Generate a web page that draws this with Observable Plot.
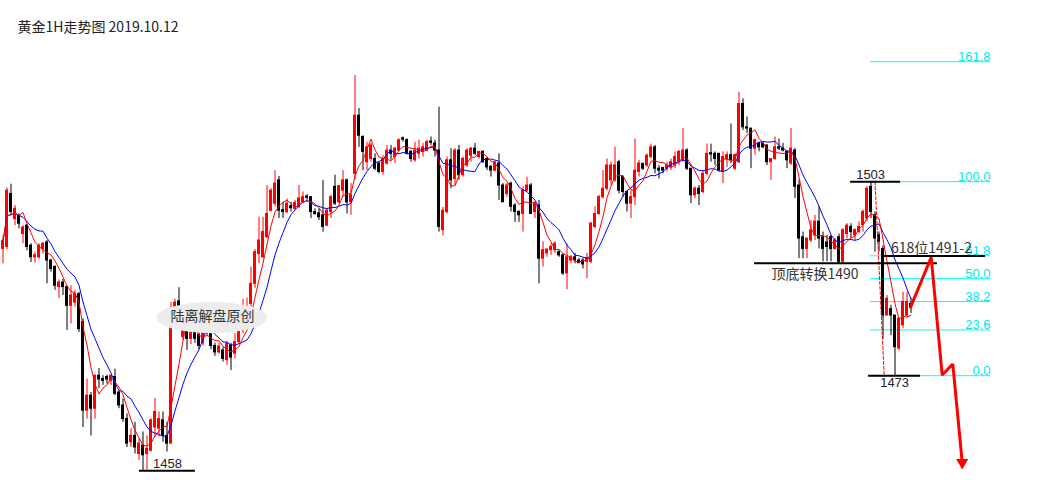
<!DOCTYPE html>
<html><head><meta charset="utf-8">
<script src="https://cdn.jsdelivr.net/npm/d3@7"></script>
<script src="https://cdn.jsdelivr.net/npm/@observablehq/plot@0.6"></script>
<style>html,body{margin:0;padding:0;background:#fff;overflow:hidden}svg{display:block}</style>
</head><body><div id="chart"></div>
<script>
// ---- 1H gold candles (prices) ----
const opens = [
1492.6,1492.9,1501.1,1497.2,1497.7,1494.9,1496.2,1493.1,1491.3,1491.3,
1492.6,1493.6,1490.8,1489.8,1486.7,1487.4,1486.7,1483.8,1484.3,1485.6,
1481.3,1467.6,1469.9,1467.9,1473.0,1472.5,1472.8,1472.2,1472.8,1470.4,
1468.4,1466.3,1462.7,1463.7,1460.9,1462.2,1460.9,1461.4,1465.0,1464.8,
1466.1,1463.7,1462.5,1483.6,1484.5,1479.0,1480.0,1478.7,1479.8,1479.3,
1478.0,1479.5,1479.5,1477.6,1476.6,1476.9,1475.4,1477.7,1476.4,1478.2,
1480.0,1482.0,1484.1,1487.2,1491.8,1491.3,1494.4,1498.5,1499.6,1503.2,
1498.6,1498.3,1499.2,1498.8,1499.1,1499.8,1500.7,1500.6,1498.3,1498.1,
1497.8,1496.2,1498.3,1502.2,1499.8,1501.6,1503.2,1499.8,1504.2,1513.2,
1509.9,1506.0,1506.5,1506.5,1505.8,1504.5,1505.8,1507.8,1506.8,1507.8,
1509.7,1509.4,1507.6,1506.3,1507.3,1507.6,1507.8,1509.2,1508.9,1507.8,
1495.5,1498.3,1506.3,1503.4,1507.8,1504.0,1505.5,1507.0,1508.1,1506.8,
1507.6,1506.5,1505.3,1504.7,1505.8,1502.4,1501.1,1502.7,1499.3,1498.3,
1498.0,1501.6,1502.4,1498.3,1499.3,1491.1,1491.9,1492.4,1492.4,1492.1,
1491.6,1488.8,1490.8,1491.3,1490.8,1490.8,1490.6,1490.6,1496.0,1498.0,
1500.6,1501.9,1503.2,1503.2,1506.0,1503.7,1501.4,1499.6,1500.6,1504.5,
1505.7,1505.5,1506.8,1508.3,1505.0,1505.1,1505.0,1505.2,1505.5,1506.0,
1506.3,1507.8,1505.0,1500.9,1501.9,1501.4,1504.2,1507.4,1507.3,1507.3,
1504.5,1506.5,1507.1,1505.0,1506.0,1515.0,1511.4,1511.2,1508.1,1508.9,
1508.9,1508.6,1506.0,1506.5,1508.3,1508.1,1507.6,1505.8,1507.8,1502.4,
1494.4,1492.6,1493.9,1494.7,1496.8,1494.4,1493.6,1494.4,1492.6,1494.4,
1490.6,1494.9,1496.0,1494.7,1495.2,1496.3,1497.3,1502.2,1497.8,1494.7,
1492.6,1482.3,1483.3,1482.3,1477.2,1480.8,1482.3,1484.1];
const highs = [
1494.6,1502.0,1502.6,1499.3,1498.0,1496.2,1496.4,1493.4,1492.1,1493.4,
1493.6,1493.9,1491.0,1490.0,1487.8,1487.9,1486.9,1486.9,1486.2,1485.9,
1481.8,1472.5,1470.4,1473.1,1474.1,1473.0,1473.1,1473.1,1474.0,1470.7,
1469.4,1467.1,1464.8,1465.8,1463.2,1464.3,1463.7,1466.3,1469.5,1467.4,
1467.4,1465.8,1484.3,1484.8,1486.6,1482.5,1481.0,1481.0,1481.0,1480.0,
1481.0,1481.5,1480.0,1478.0,1478.0,1477.4,1478.3,1478.0,1479.5,1480.5,
1484.8,1485.0,1489.8,1492.5,1497.5,1497.5,1502.4,1501.9,1504.7,1503.8,
1499.8,1500.3,1499.8,1500.1,1502.4,1501.4,1501.0,1500.7,1498.8,1498.8,
1503.2,1498.8,1500.9,1504.0,1502.4,1504.7,1503.4,1502.7,1519.4,1514.3,
1510.1,1509.1,1508.9,1507.3,1506.0,1507.0,1508.6,1508.6,1508.3,1509.6,
1509.9,1509.6,1507.8,1509.1,1509.4,1508.9,1509.4,1509.9,1509.4,1514.5,
1499.0,1506.8,1508.1,1508.1,1508.6,1506.8,1508.1,1508.3,1508.9,1507.6,
1507.8,1506.8,1505.5,1506.0,1507.3,1502.7,1502.7,1502.9,1499.6,1498.5,
1502.2,1503.7,1502.7,1499.8,1500.1,1493.7,1492.6,1493.4,1493.7,1492.4,
1491.9,1493.4,1491.6,1491.9,1491.1,1491.1,1491.9,1496.7,1499.1,1500.9,
1504.7,1506.5,1506.0,1508.3,1506.3,1503.9,1501.6,1501.6,1509.6,1506.3,
1505.9,1507.3,1508.8,1508.6,1505.5,1505.2,1506.0,1506.5,1507.6,1507.8,
1511.2,1508.1,1505.0,1502.2,1502.4,1504.7,1508.8,1508.8,1507.6,1507.3,
1507.6,1507.6,1511.9,1507.3,1516.8,1515.8,1513.0,1511.2,1509.6,1509.1,
1508.9,1508.6,1506.5,1509.9,1509.6,1508.9,1507.8,1511.2,1508.1,1503.2,
1495.2,1494.2,1497.0,1497.8,1499.1,1495.2,1494.7,1494.7,1494.2,1494.9,
1495.7,1496.5,1496.5,1495.7,1496.8,1498.6,1502.2,1503.0,1498.3,1495.2,
1493.1,1485.4,1483.9,1482.3,1482.0,1485.9,1485.9,1484.9];
const lows = [
1490.3,1492.5,1497.7,1496.2,1495.7,1493.4,1492.3,1490.5,1490.4,1491.0,
1491.8,1487.2,1489.0,1486.2,1484.9,1485.4,1480.0,1481.0,1483.6,1479.7,
1465.0,1466.3,1463.7,1466.3,1471.0,1471.5,1471.7,1471.5,1469.9,1467.9,
1465.8,1461.9,1461.9,1460.9,1459.9,1458.3,1458.3,1461.2,1463.5,1463.5,
1462.7,1461.2,1462.5,1482.5,1482.0,1478.5,1476.9,1477.8,1478.0,1477.0,
1477.6,1479.0,1477.0,1476.0,1476.3,1475.1,1474.6,1473.8,1475.6,1477.8,
1479.5,1481.0,1483.6,1486.5,1490.3,1491.1,1494.2,1498.3,1499.1,1497.3,
1497.3,1498.0,1498.3,1498.5,1498.8,1499.6,1500.1,1497.3,1497.8,1497.0,
1495.2,1496.0,1497.3,1499.3,1499.6,1500.6,1498.0,1497.8,1503.2,1508.3,
1504.7,1504.7,1506.0,1504.7,1504.2,1504.0,1505.5,1506.3,1505.8,1507.6,
1509.1,1507.1,1506.0,1506.0,1506.5,1506.8,1507.6,1508.6,1506.8,1495.2,
1494.6,1498.0,1501.9,1502.4,1503.2,1503.7,1505.2,1506.0,1507.0,1506.5,
1505.8,1504.7,1503.7,1504.5,1500.1,1499.8,1500.6,1498.3,1496.7,1496.7,
1495.2,1501.4,1498.0,1497.3,1487.2,1489.8,1491.3,1491.6,1491.9,1491.3,
1488.5,1486.3,1490.3,1490.3,1490.3,1489.5,1488.0,1490.3,1495.7,1497.8,
1500.3,1501.6,1502.4,1502.9,1501.1,1500.6,1498.3,1497.3,1499.3,1503.7,
1504.7,1505.2,1506.5,1504.2,1503.4,1504.2,1504.5,1504.7,1505.0,1505.5,
1506.0,1504.7,1499.6,1500.4,1499.3,1501.1,1504.0,1506.0,1505.5,1504.5,
1502.7,1505.2,1505.8,1504.7,1505.8,1510.9,1510.4,1505.0,1507.1,1507.6,
1508.1,1505.5,1503.2,1506.3,1507.8,1507.6,1505.0,1505.5,1500.4,1491.1,
1491.1,1491.1,1493.6,1493.9,1492.6,1490.6,1490.6,1490.6,1492.4,1490.3,
1490.3,1494.2,1494.2,1493.9,1495.0,1495.2,1496.8,1497.3,1492.1,1492.1,
1478.7,1482.3,1479.2,1473.0,1476.9,1480.3,1482.0,1482.6];
const closes = [
1493.8,1501.6,1498.3,1498.8,1496.5,1495.9,1492.9,1491.3,1491.6,1493.1,
1493.4,1490.8,1489.5,1486.9,1487.4,1486.7,1483.8,1485.4,1485.6,1480.2,
1467.6,1469.9,1467.9,1473.0,1472.4,1472.2,1472.4,1473.0,1470.2,1468.4,
1466.3,1462.5,1463.7,1461.9,1462.5,1460.7,1461.7,1466.1,1467.4,1466.3,
1463.7,1462.5,1480.5,1484.3,1483.0,1481.5,1478.7,1479.8,1478.7,1477.6,
1479.8,1480.5,1477.6,1476.6,1477.5,1475.6,1477.9,1475.8,1478.2,1480.0,
1482.5,1483.5,1487.2,1492.1,1493.9,1495.2,1498.0,1501.6,1502.7,1498.5,
1498.3,1499.6,1498.9,1499.7,1500.4,1500.6,1500.5,1498.3,1498.0,1497.5,
1496.0,1498.5,1500.6,1499.6,1502.3,1503.2,1499.8,1500.9,1513.2,1510.1,
1507.6,1508.3,1508.6,1505.0,1504.5,1506.5,1507.8,1507.3,1508.1,1509.4,
1509.5,1507.3,1506.5,1507.8,1508.1,1508.3,1509.1,1509.0,1507.8,1496.0,
1498.5,1506.3,1503.2,1507.8,1504.0,1506.5,1507.8,1508.1,1507.3,1507.6,
1506.0,1505.2,1504.7,1506.0,1502.4,1499.8,1502.4,1499.1,1498.3,1497.8,
1501.6,1502.4,1498.0,1499.6,1491.1,1492.4,1492.5,1492.9,1493.4,1491.6,
1488.8,1491.3,1491.3,1490.8,1490.4,1490.2,1491.1,1496.5,1498.0,1500.6,
1501.9,1505.5,1505.5,1505.5,1501.6,1501.4,1499.6,1500.6,1504.7,1505.8,
1505.0,1507.0,1508.3,1505.0,1504.7,1504.7,1505.5,1506.0,1506.8,1507.6,
1507.8,1505.0,1500.9,1501.9,1501.1,1504.2,1507.3,1507.2,1506.5,1504.7,
1506.8,1507.1,1506.3,1507.1,1515.0,1511.4,1511.2,1508.1,1509.4,1508.3,
1508.3,1506.0,1506.5,1508.3,1508.1,1507.8,1506.3,1508.1,1502.2,1494.2,
1492.6,1494.2,1495.5,1496.8,1494.2,1492.6,1492.9,1492.6,1493.9,1490.6,
1495.5,1496.2,1495.2,1495.5,1496.0,1498.3,1501.9,1498.3,1494.2,1493.7,
1482.3,1484.9,1482.3,1477.4,1481.8,1484.4,1484.4,1483.6];

// ---- Fibonacci retracement (1473 -> 1503) ----
const fibLow = 1473, fibHigh = 1503;
const fibRatios = [0, 23.6, 38.2, 50, 61.8, 100, 161.8];
const fibFrom = 216.9, fibTo = 246.9;

// ---- marked highs / lows ----
const markLabels = ["1458", "1503", "1473"];
const markPrices = [1458.3, 1503, 1473];
const markFrom = [34.1, 211.9, 216.4];
const markTo = [48.1, 224.4, 229.4];
const markAt = [41.1, 216.9, 222.9];
const markBelow = [false, false, true];

// ---- support / resistance lines with notes ----
const srNotes = ["顶底转换1490", "618位1491-2"];
const srPrices = [1490.4, 1491.5];
const srFrom = [187.9, 220.4];
const srTo = [233.6, 245.6];
const srNoteAt = [203.0, 232.1];
const srNotePrice = [1488.6, 1492.7];

// ---- projected path (index, price) ----
const pathIdx = [226.9, 232.05, 234.8, 237.45, 239.8];
const pathPrice = [1483.6, 1491.3, 1473.1, 1474.8, 1459.6];
const dashIdx = [218.0, 220.3];
const dashPrice = [1503, 1473];

const watermark = "陆离解盘原创";
const wmBox = {x1: 38.6, x2: 66.1, y1: 1479.5, y2: 1484.3, x: 52.4, y: 1482.1};
const title = "黄金1H走势图 2019.10.12";

const candles = opens.map((o, i) => ({i, o, h: highs[i], l: lows[i], c: closes[i]}));
const col = d => d.c >= d.o ? "#ff0000" : "#000000";
const fibs = fibRatios.map(r => ({r, p: fibLow + r / 100 * (fibHigh - fibLow)}));
const marks = markLabels.map((t, k) => ({t, p: markPrices[k], a: markFrom[k], b: markTo[k], at: markAt[k], below: markBelow[k]}));
const marksAbove = marks.filter(d => !d.below);
const marksBelow = marks.filter(d => d.below);
const srs = srNotes.map((t, k) => ({t, p: srPrices[k], a: srFrom[k], b: srTo[k], at: srNoteAt[k], np: srNotePrice[k]}));
const path = pathIdx.map((x, k) => ({x, y: pathPrice[k]}));
const dash = dashIdx.map((x, k) => ({x, y: dashPrice[k]}));
const cjk = "'Noto Sans CJK SC', 'Noto Sans', sans-serif";
const latin = "'Liberation Sans', Arial, sans-serif";

const chart = Plot.plot({
  width: 1049, height: 480, margin: 0,
  x: {type: "linear", domain: [-0.625, 261.625], axis: null},
  y: {type: "linear", domain: [1456.8, 1531], axis: null},
  style: {background: "#ffffff", fontFamily: latin},
  marks: [
    Plot.ruleY(fibs, {y: "p", x1: () => fibFrom, x2: () => fibTo, stroke: "#00ffff", strokeWidth: 1}),
    Plot.text(fibs, {x: () => fibTo, y: "p", text: d => d.r.toFixed(1), textAnchor: "end", lineAnchor: "bottom", dy: -1, fill: "#00e8e8", fontSize: 13, fontFamily: latin}),
    Plot.ruleX(candles, {x: "i", y1: "l", y2: "h", stroke: col, strokeWidth: 1}),
    Plot.rect(candles, {x1: d => d.i - 0.375, x2: d => d.i + 0.375, y1: "o", y2: "c", fill: col, insetTop: -0.5, insetBottom: -0.5}),
    Plot.lineY(candles, Plot.windowY({k: 10, anchor: "end", strict: false}, {x: "i", y: "c", stroke: "#0000ff", strokeWidth: 1})),
    Plot.lineY(candles, Plot.windowY({k: 5, anchor: "end", strict: false}, {x: "i", y: "c", stroke: "#ff0000", strokeWidth: 1})),
    Plot.line(dash, {x: "x", y: "y", stroke: "#ff0000", strokeWidth: 1, strokeDasharray: "3,2"}),
    Plot.ruleY(marks, {y: "p", x1: "a", x2: "b", stroke: "#000", strokeWidth: 2}),
    Plot.text(marksAbove, {x: "at", y: "p", text: "t", lineAnchor: "bottom", dy: -3, fill: "#222", fontSize: 13, fontFamily: latin}),
    Plot.text(marksBelow, {x: "at", y: "p", text: "t", lineAnchor: "top", dy: 2, fill: "#222", fontSize: 13, fontFamily: latin}),
    Plot.ruleY(srs, {y: "p", x1: "a", x2: "b", stroke: "#000", strokeWidth: 2}),
    Plot.text(srs, {x: "at", y: "np", text: "t", fill: "#333", fontSize: 14, fontFamily: cjk}),
    Plot.rect([wmBox], {x1: "x1", x2: "x2", y1: "y1", y2: "y2", rx: 55, ry: 15, fill: "#ececec"}),
    Plot.text([wmBox], {x: "x", y: "y", text: () => watermark, fill: "#333", fontSize: 14, fontFamily: cjk}),
    Plot.line(path, {x: "x", y: "y", stroke: "#ff0000", strokeWidth: 3, strokeLinejoin: "miter"}),
    Plot.dot([path[path.length - 1]], {x: "x", y: "y", symbol: "triangle", rotate: 180, r: 4.5, fill: "#ff0000", stroke: "none"}),
    Plot.text([title], {frameAnchor: "top-left", dx: 17, dy: 22, text: d => d, textAnchor: "start", fill: "#222", fontSize: 14, fontFamily: cjk})
  ]
});
document.getElementById("chart").appendChild(chart);
</script>
</body></html>
